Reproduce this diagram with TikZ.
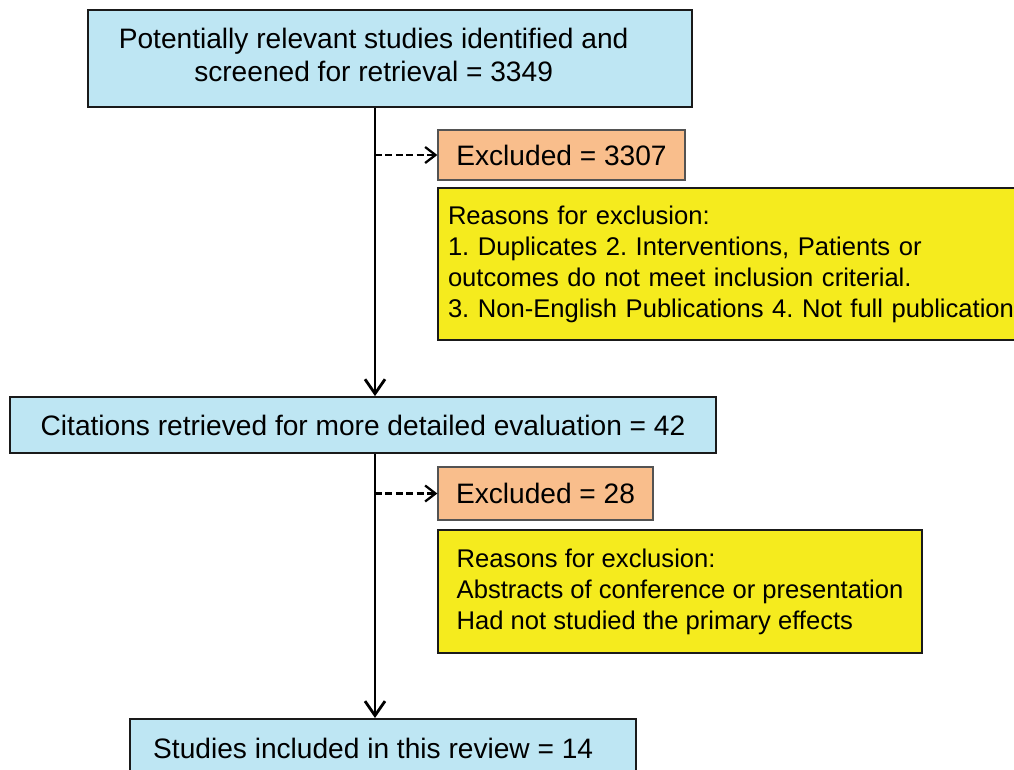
\documentclass[tikz,border=0pt]{standalone}
\usepackage{fontspec}
\setmainfont{Liberation Sans}
\frenchspacing
\usetikzlibrary{arrows.meta,positioning}
\definecolor{ink}{HTML}{000000}
\definecolor{edge}{HTML}{1A1A1A}
\definecolor{stage}{HTML}{BEE6F3}
\definecolor{drop}{HTML}{F9BE8C}
\definecolor{why}{HTML}{F5EB1E}
\tikzset{
  >={Straight Barb[length=3.6mm,width=5mm]},
  nohyph/.style={execute at begin node={\hyphenpenalty=10000\exhyphenpenalty=10000\relax}},
  box/.style={draw=edge, line width=1.3pt, align=center, text=ink, inner sep=0pt,
    font=\fontsize{20}{24}\selectfont, nohyph},
  stagebox/.style={box, fill=stage},
  dropbox/.style={box, fill=drop, draw=edge!75, line width=0.9pt},
  whybox/.style={box, fill=why, align=left, font=\fontsize{18.2}{22}\selectfont},
  txt/.style={align=center, text=ink, inner sep=0pt, font=\fontsize{20}{24}\selectfont, nohyph},
  arr/.style={->, draw=ink, line width=2pt},
  dasharr/.style={->, draw=ink, line width=1.6pt, dash pattern=on 5pt off 2.4pt,
    >={Straight Barb[length=2.6mm,width=4mm]}},
}

\begin{document}
\begin{tikzpicture}
  % ---------------- canvas ----------------
  \useasboundingbox (0,0) rectangle (25.35,-19.225);
  \clip (0,0) rectangle (25.35,-19.225);
  \fill[white] (0,0) rectangle (25.35,-19.225);

  % ---------------- main column ----------------
  \node[stagebox, line width=2pt, minimum width=15.1cm, minimum height=2.425cm] (found) at (9.75,-1.4625) {};
  \node[txt] (foundtxt) at (9.34,-1.375) {Potentially relevant studies identified and\\ screened for retrieval = 3349};
  \node[stagebox, minimum width=17.65cm, minimum height=1.4cm] (cited) at (9.075,-10.625)
    {Citations retrieved for more detailed evaluation = 42};
  \node[stagebox, minimum width=12.65cm, minimum height=1.5cm, anchor=north] (incl) at (9.575,-17.95) {};
  \node[txt] (incltxt) at (9.33,-18.7) {Studies included in this review = 14};
  \coordinate (spine) at (9.375,0);
  \draw[arr] (found.south -| spine) -- (cited.north -| spine);
  \draw[arr] (cited.south -| spine) -- (incl.north -| spine);

  % ---------------- exclusions ----------------
  \node[dropbox, minimum width=6.175cm, minimum height=1.25cm] (drop1) at (14.0375,-3.875) {Excluded = 3307};
  \node[whybox, minimum width=15.05cm, minimum height=3.8cm, text width=14.55cm, inner xsep=0.25cm] (why1) at (18.475,-6.6)
    {Reasons for exclusion:\\ 1. Duplicates 2. Interventions, Patients or\\ outcomes do not meet inclusion criterial.\\ 3. Non-English Publications 4. Not full publication};
  \node[dropbox, minimum width=5.375cm, minimum height=1.325cm] (drop2) at (13.6375,-12.3375) {Excluded = 28};
  \node[whybox, minimum width=12.1cm, minimum height=3.075cm, inner xsep=0.425cm] (why2) at (17.0,-14.7875)
    {Reasons for exclusion:\\ Abstracts of conference or presentation\\ Had not studied the primary effects};
  \draw[dasharr] (drop1.west -| spine) -- (drop1.west);
  \draw[dasharr] (drop2.west -| spine) -- (drop2.west);
\end{tikzpicture}
\end{document}
